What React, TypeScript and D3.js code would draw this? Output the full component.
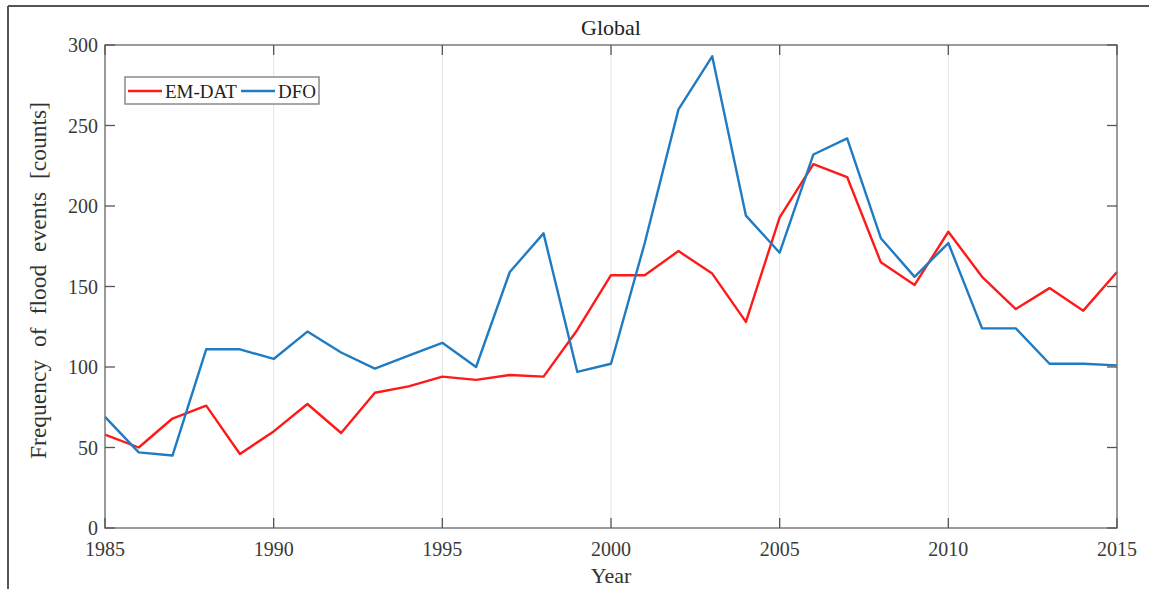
import React, { useEffect, useRef } from 'react';
import * as d3 from 'd3';

// yearly flood event counts
const years = d3.range(1985, 2016);
const emdat = [58, 50, 68, 76, 46, 60, 77, 59, 84, 88, 94, 92, 95, 94, 123, 157, 157, 172, 158, 128,
  193, 226, 218, 165, 151, 184, 156, 136, 149, 135, 159];
const dfo = [69, 47, 45, 111, 111, 105, 122, 109, 99, 107, 115, 100, 159, 183, 97, 102, 177, 260, 293, 194,
  171, 232, 242, 180, 156, 177, 124, 124, 102, 102, 101];
const xTicks = [1985, 1990, 1995, 2000, 2005, 2010, 2015];
const yTicks = [0, 50, 100, 150, 200, 250, 300];
const seriesNames = ['EM-DAT', 'DFO'];
const seriesColors = ['#ff1a1a', '#1f7bc2'];

const W = 1149;
const H = 589;

function App() {
  const ref = useRef<SVGSVGElement>(null);

  useEffect(() => {
    const svg = d3.select(ref.current);
    svg.selectAll('*').remove();

    const left = 105, right = 1117, top = 45, bottom = 528;
    const x = d3.scaleLinear().domain([1985, 2015]).range([left, right]);
    const y = d3.scaleLinear().domain([0, 300]).range([bottom, top]);
    const font = "'Liberation Serif', 'Times New Roman', serif";

    // outer figure frame
    svg.append('line').attr('x1', 8).attr('x2', W).attr('y1', 6).attr('y2', 6)
      .attr('stroke', '#555').attr('stroke-width', 2);
    svg.append('line').attr('x1', 8).attr('x2', 8).attr('y1', 6).attr('y2', H)
      .attr('stroke', '#555').attr('stroke-width', 2);

    // vertical grid
    svg.append('g').selectAll('line').data(xTicks.slice(1, -1)).enter().append('line')
      .attr('x1', d => x(d)).attr('x2', d => x(d))
      .attr('y1', top).attr('y2', bottom)
      .attr('stroke', '#e4e4e4').attr('stroke-width', 1);

    // lines
    const line = d3.line<number>()
      .x((_, i) => x(years[i]))
      .y(d => y(d));
    [emdat, dfo].forEach((s, k) => {
      svg.append('path').datum(s)
        .attr('d', line)
        .attr('fill', 'none')
        .attr('stroke', seriesColors[k])
        .attr('stroke-width', 2.4)
        .attr('stroke-linejoin', 'round');
    });

    // box
    svg.append('rect').attr('x', left).attr('y', top)
      .attr('width', right - left).attr('height', bottom - top)
      .attr('fill', 'none').attr('stroke', '#7a7a7a').attr('stroke-width', 1.5);

    const tl = 10;
    const ticks = svg.append('g').attr('stroke', '#555').attr('stroke-width', 1.3);
    xTicks.forEach(t => {
      ticks.append('line').attr('x1', x(t)).attr('x2', x(t)).attr('y1', bottom).attr('y2', bottom - tl);
      ticks.append('line').attr('x1', x(t)).attr('x2', x(t)).attr('y1', top).attr('y2', top + tl);
    });
    yTicks.forEach(t => {
      ticks.append('line').attr('x1', left).attr('x2', left + tl).attr('y1', y(t)).attr('y2', y(t));
      ticks.append('line').attr('x1', right).attr('x2', right - tl).attr('y1', y(t)).attr('y2', y(t));
    });

    // tick labels
    svg.append('g').selectAll('text').data(xTicks).enter().append('text')
      .attr('x', d => x(d)).attr('y', 556)
      .attr('text-anchor', 'middle')
      .attr('font-family', font).attr('font-size', 20).attr('fill', '#3a3a3a')
      .text(d => d);
    svg.append('g').selectAll('text').data(yTicks).enter().append('text')
      .attr('x', 98).attr('y', d => y(d) + 7)
      .attr('text-anchor', 'end')
      .attr('font-family', font).attr('font-size', 20).attr('fill', '#3a3a3a')
      .text(d => d);

    // axis titles
    svg.append('text').attr('x', (left + right) / 2).attr('y', 583)
      .attr('text-anchor', 'middle')
      .attr('font-family', font).attr('font-size', 22).attr('fill', '#333')
      .text('Year');
    svg.append('text')
      .attr('transform', `translate(46,${(top + bottom) / 2 - 6}) rotate(-90)`)
      .attr('text-anchor', 'middle')
      .attr('font-family', font).attr('font-size', 23.5).attr('fill', '#333')
      .attr('word-spacing', 7)
      .text('Frequency of flood events [counts]');
    svg.append('text').attr('x', (left + right) / 2).attr('y', 35)
      .attr('text-anchor', 'middle')
      .attr('font-family', font).attr('font-size', 22).attr('fill', '#222')
      .text('Global');

    // legend
    const lg = svg.append('g');
    lg.append('rect').attr('x', 125).attr('y', 77).attr('width', 194).attr('height', 27)
      .attr('fill', '#fff').attr('stroke', '#8a8a8a').attr('stroke-width', 1.5);
    const items = [{ x0: 128, tx: 165 }, { x0: 241, tx: 278 }];
    items.forEach((it, k) => {
      lg.append('line').attr('x1', it.x0).attr('x2', it.x0 + 34).attr('y1', 91).attr('y2', 91)
        .attr('stroke', seriesColors[k]).attr('stroke-width', 2.4);
      lg.append('text').attr('x', it.tx).attr('y', 97.5)
        .attr('font-family', font).attr('font-size', 19).attr('fill', '#222')
        .text(seriesNames[k]);
    });
  }, []);

  return (
    <svg ref={ref} width={W} height={H}
      style={{ position: 'absolute', left: 0, top: 0, background: '#fff' }} />
  );
}

export default App;
